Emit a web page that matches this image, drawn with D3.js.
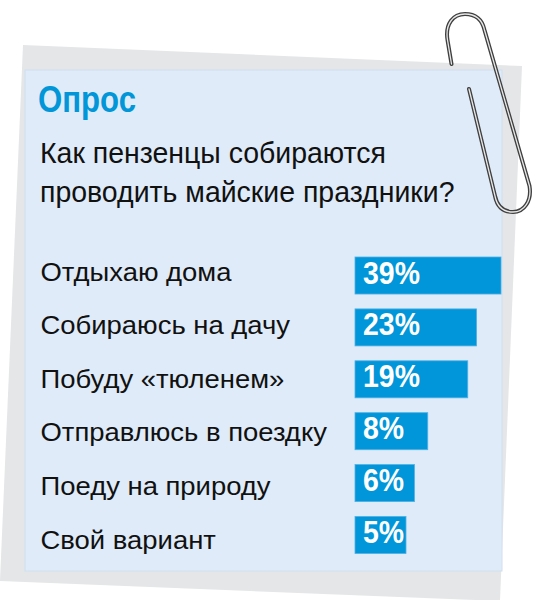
<!DOCTYPE html>
<html><head><meta charset="utf-8">
<script src="https://cdn.jsdelivr.net/npm/d3@7"></script>
<style>body{margin:0;background:#fff;overflow:hidden}</style>
</head><body>
<script>
// ---- data ----
const title = "Опрос";
const question = ["Как пензенцы собираются", "проводить майские праздники?"];
const categories = ["Отдыхаю дома", "Собираюсь на дачу", "Побуду «тюленем»", "Отправлюсь в поездку", "Поеду на природу", "Свой вариант"];
const values = [39, 23, 19, 8, 6, 5];
const valueLabels = ["39%", "23%", "19%", "8%", "6%", "5%"];

// ---- layout ----
const W = 548, H = 600;
const FONT = "'Liberation Sans',Arial,sans-serif";
const svg = d3.select("body").append("svg").attr("width", W).attr("height", H);

// condensed look: horizontal squeeze factor derived from a reference text width
function squeeze(textNode, targetWidth) {
  const w = textNode.getComputedTextLength();
  return w > 0 ? targetWidth / w : 1;
}

// back grey sheet
svg.append("path")
  .attr("d", "M23,45 L522,66 L500,601 L0,581 Z")
  .attr("fill", "#e5e6e8");
// blue card
svg.append("rect").attr("x", 25).attr("y", 70).attr("width", 477).attr("height", 501)
  .attr("fill", "#dfebf8").attr("stroke", "#d0deee").attr("stroke-width", 1);

// title
const tt = svg.append("text").text(title)
  .attr("font-family", FONT).attr("font-weight", "bold").attr("font-size", 37)
  .attr("fill", "#0096d8");
const sTitle = squeeze(tt.node(), 98);
tt.attr("transform", `translate(38,112) scale(${sTitle},1)`);

// question
const q = svg.append("g").attr("font-family", FONT).attr("font-size", 30).attr("fill", "#111");
const qt = q.selectAll("text").data(question).join("text").text(d => d);
const sQ = squeeze(qt.nodes()[0], 346);
qt.attr("transform", (d, i) => `translate(40,${163.3 + i * 38.4}) scale(${sQ},1)`);

// scales
const x = d3.scaleLog().domain([5, 39]).range([406, 501]);
const x0 = 355;
const yBar = d3.scaleBand().domain(categories).range([257, 553.5]).paddingInner(0.2866).paddingOuter(0);
const yLabel = d3.scalePoint().domain(categories).range([280.5, 548.5]);

const rows = categories.map((c, i) => ({ c, v: values[i], t: valueLabels[i] }));

// category labels
const lab = svg.append("g").attr("font-family", FONT).attr("font-size", 26.5).attr("fill", "#111")
  .selectAll("text").data(rows).join("text").text(d => d.c);
const sL = squeeze(lab.nodes()[0], 191);
lab.attr("transform", d => `translate(40.5,${yLabel(d.c)}) scale(${sL},1)`);

// bars
svg.append("g").selectAll("rect").data(rows).join("rect")
  .attr("x", x0).attr("y", d => yBar(d.c))
  .attr("width", d => x(d.v) - x0).attr("height", yBar.bandwidth())
  .attr("fill", "#0096d9").attr("stroke", "#52b0e4").attr("stroke-width", 0.8);

// value labels
const vl = svg.append("g").attr("font-family", FONT).attr("font-weight", "bold").attr("font-size", 30.5).attr("fill", "#fff")
  .selectAll("text").data(rows).join("text").text(d => d.t);
const sV = squeeze(vl.nodes()[0], 57);
vl.attr("transform", d => `translate(363,${yBar(d.c) + 26.5}) scale(${sV},1)`);

// paperclip
const clip = "M451.5,64 L447.5,40 C445,24 453,14 465,14 C475,14 482,19 484.5,30 L529.5,186 C532,201 524,212 513,212 C503,212 497,206 495,196 L469,89";
svg.append("path").attr("d", clip).attr("fill", "none")
  .attr("stroke", "#3f3f3f").attr("stroke-width", 4).attr("stroke-linecap", "round");
svg.append("path").attr("d", clip).attr("fill", "none")
  .attr("stroke", "#e8e8e8").attr("stroke-width", 1.3).attr("stroke-linecap", "round");
</script>
</body></html>
